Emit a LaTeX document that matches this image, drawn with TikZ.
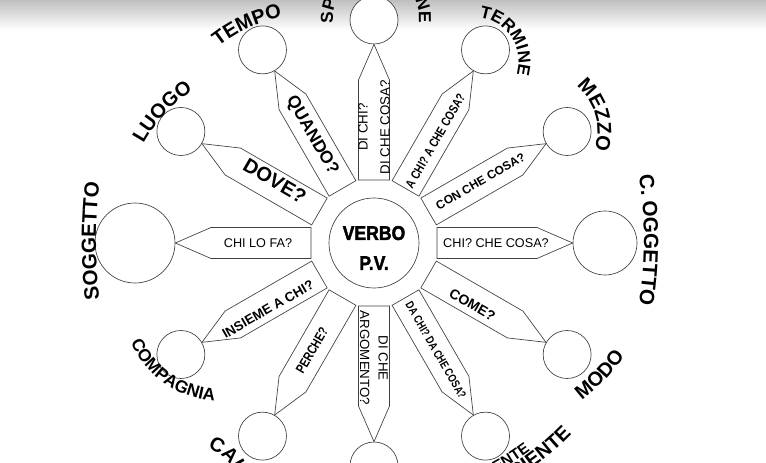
\documentclass[tikz,border=0pt]{standalone}
\usepackage{fontspec}
\setmainfont{Liberation Sans}
\newfontfamily\narrowfont[FakeStretch=0.8]{Liberation Sans}
\newfontfamily\verbofont[FakeStretch=0.88,FakeBold=2]{Liberation Sans Bold}
\usetikzlibrary{calc,decorations.text}

\newcommand\lbl{\bfseries\fontsize{15}{15}\selectfont}
\newcommand\lbls{\bfseries\fontsize{13}{13}\selectfont}
\newcommand\lblb{\bfseries\fontsize{15.5}{15.5}\selectfont}

% etichetta curva sopra (orario) e sotto (antiorario)
\newcommand\toplabel[6]{%
  \path[decorate,decoration={text along path,text align=center,text={|#5|#6}}]
    ($(#1)+({#3+#4}:#2)$) arc[start angle={#3+#4},end angle={#3-#4},radius={#2*0.75pt}];}
\newcommand\botlabel[6]{%
  \path[decorate,decoration={text along path,text align=center,text={|#5|#6}}]
    ($(#1)+({#3-#4}:#2)$) arc[start angle={#3-#4},end angle={#3+#4},radius={#2*0.75pt}];}

\tikzset{
  ring/.style={circle,draw=black!75,line width=0.5pt,fill=white,minimum size=36pt,inner sep=0pt},
  spoke/.style={draw=black!75,line width=0.5pt,fill=white},
  qtext/.style={inner sep=0pt,align=center,font=\fontsize{9.5}{11}\selectfont},
  qbold/.style={inner sep=0pt,align=center,font=\bfseries\fontsize{9.5}{11}\selectfont},
  qnarrow/.style={inner sep=0pt,align=center,font=\narrowfont\bfseries\fontsize{9}{11}\selectfont},
  qbig/.style={inner sep=0pt,font=\bfseries\fontsize{13}{13}\selectfont},
  verbotext/.style={inner sep=0pt,align=center,font=\verbofont\fontsize{15}{22.5}\selectfont}
}

\begin{document}
\begin{tikzpicture}[x=0.75pt,y=0.75pt]
    \useasboundingbox (-374,-220) rectangle (392,243);
    \clip (-374,-220) rectangle (392,243);
    \shade[top color=black!25,bottom color=white] (-374,213) rectangle (392,243);

    % cerchi
    \node[ring,minimum size=67.5pt] (verbo) at (0,0) {};
    \node[ring,minimum size=48pt] (oggetto) at (0:231) {};
    \node[ring] (mezzo) at (30:223) {};
    \node[ring] (termine) at (60:223) {};
    \node[ring] (spec) at (90:223) {};
    \node[ring] (tempo) at (120:223) {};
    \node[ring] (luogo) at (150:223) {};
    \node[ring,minimum size=60pt] (soggetto) at (180:239) {};
    \node[ring] (compagnia) at (210:223) {};
    \node[ring] (causa) at (240:223) {};
    \node[ring] (argomento) at (270:223) {};
    \node[ring] (agente) at (300:223) {};
    \node[ring] (modo) at (330:223) {};

    % frecce
    \foreach \ang/\cerchio in {0/oggetto,30/mezzo,60/termine,90/spec,120/tempo,150/luogo,
        180/soggetto,210/compagnia,240/causa,270/argomento,300/agente,330/modo}{
      \pgfmathtruncatemacro\opp{mod(\ang+180,360)}
      \draw[spoke,rotate=\ang] (63,-15.5) -- (163,-15.5) -- (\cerchio.\opp)
        -- (163,15.5) -- (63,15.5) -- cycle;
    }

    % domande
    \node[qtext] (q0) at (0:122) {CHI? CHE COSA?};
    \node[qbold,rotate=30,font=\bfseries\fontsize{9}{11}\selectfont] (q30) at (30:123) {CON CHE COSA?};
    \node[qnarrow,rotate=60,font=\narrowfont\bfseries\fontsize{9.5}{11}\selectfont] (q60) at (59:119) {A CHI? A CHE COSA?};
    \node[qtext,rotate=90,font=\fontsize{10}{16.5}\selectfont] (q90) at (90:116) {DI CHI?\\DI CHE COSA?};
    \node[qbig,rotate=-60] (q120) at (120:124) {QUANDO?};
    \node[qbig,rotate=-30,font=\bfseries\fontsize{15}{15}\selectfont] (q150) at (148:117) {DOVE?};
    \node[qtext] (q180) at (180:116) {CHI LO FA?};
    \node[qbold,rotate=30,font=\bfseries\fontsize{10}{11}\selectfont] (q210) at (212:125) {INSIEME A CHI?};
    \node[qnarrow,rotate=60,font=\narrowfont\bfseries\fontsize{10}{11}\selectfont] (q240) at (240:124) {PERCHE?};
    \node[qtext,rotate=-90,font=\fontsize{10}{14}\selectfont] (q270) at (270:115) {DI CHE\\ARGOMENTO?};
    \node[qnarrow,rotate=-60,font=\narrowfont\bfseries\fontsize{8.6}{11}\selectfont] (q300) at (300:124) {DA CHI? DA CHE COSA?};
    \node[qbig,rotate=-30,font=\bfseries\fontsize{10.5}{11}\selectfont] (q330) at (328:116) {COME?};

    \node[verbotext] (pv) at (0,-5) {VERBO\\P.V.};

    % etichette
    \toplabel{-63,81}{148}{115}{40}{\lbl}{TEMPO}
    \toplabel{2,225}{43}{90}{120}{\lbls}{SPECIFICAZIONE}
    \toplabel{100,181}{44.5}{33}{80}{\lbls}{TERMINE}
    \toplabel{166,112}{57.5}{16}{70}{\lbl}{MEZZO}
    \toplabel{-103,30}{145}{137}{35}{\lbl}{LUOGO}
    \toplabel{215,2}{493}{180}{10}{\lblb}{SOGGETTO}
    \toplabel{-138,3}{408}{0}{12}{\lblb}{C. OGGETTO}
    \botlabel{-154,-61}{97}{235}{45}{\lbls}{COMPAGNIA}
    \botlabel{82,7}{207}{-44}{20}{\lbl}{MODO}
    \toplabel{-186,-254}{53}{30}{80}{\lbl}{CAUSA}
    \path[decorate,decoration={text along path,text align=right,text={|\bfseries\fontsize{11.5}{12}\selectfont|AGENTE}}]
      (-100:260) arc[start angle=-100,end angle=-53,radius=195pt];
    \path[decorate,decoration={text along path,text align=right,text={|\lbl|CAUSA EFFICIENTE}}]
      (-100:275) arc[start angle=-100,end angle=-44,radius=206.25pt];
\end{tikzpicture}
\end{document}
